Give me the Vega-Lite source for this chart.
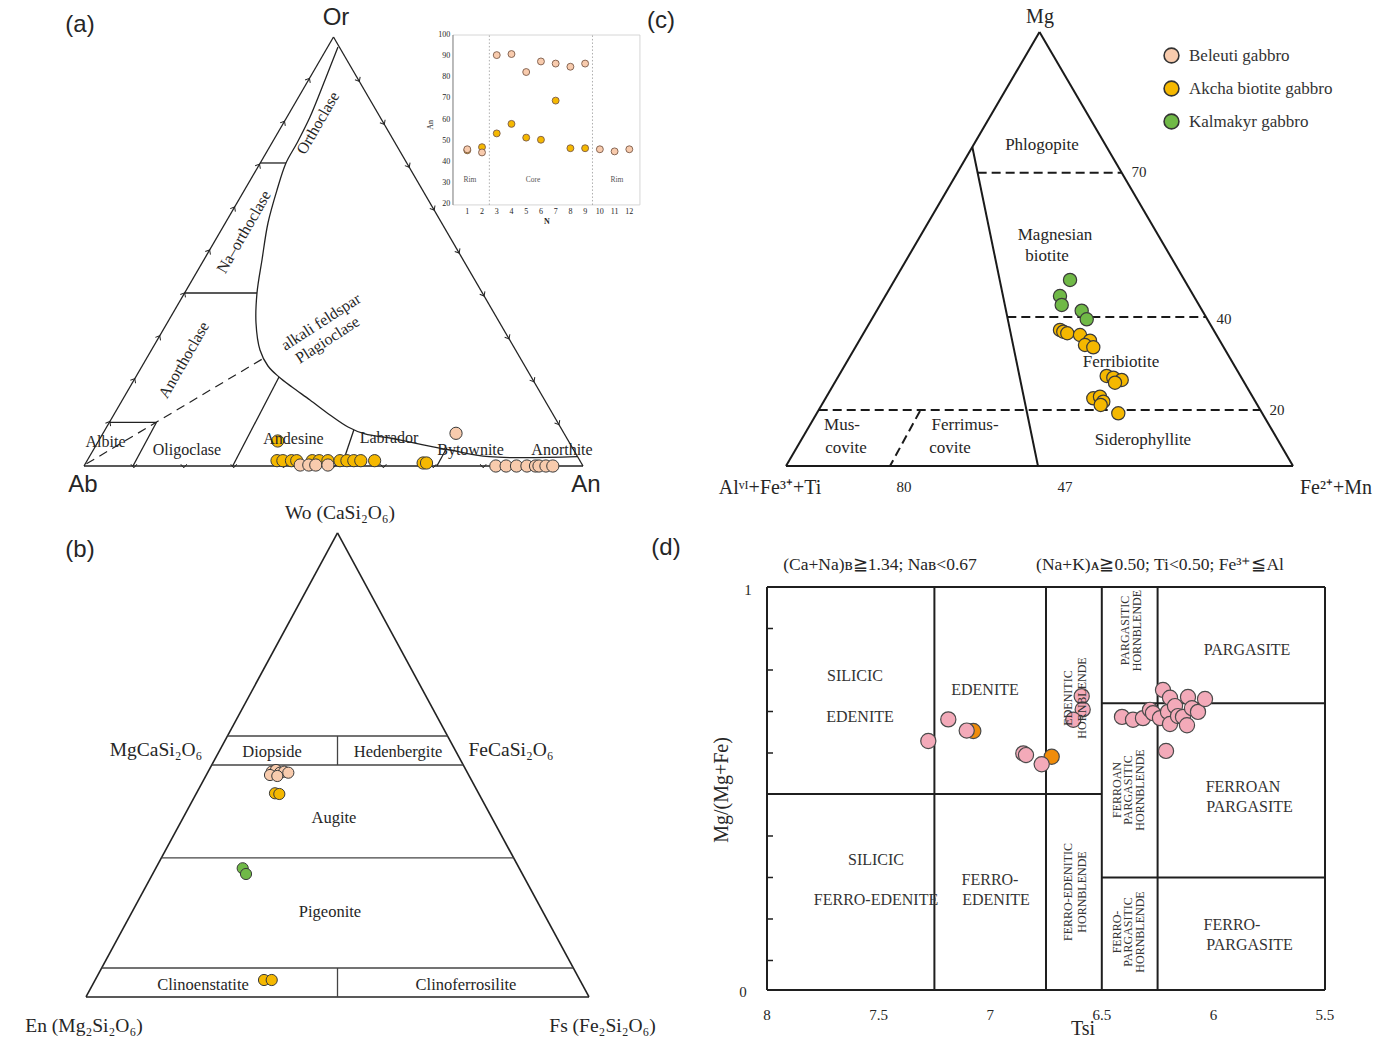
{
"$schema":"https://vega.github.io/schema/vega-lite/v6.json",
"padding":0,
"autosize":{"type":"pad"},
"background":"#ffffff",
"bounds":"flush",
"spacing":0,
"columns":2,
"align":"each",
"config":{"view":{"stroke":null},"concat":{"spacing":0},"text":{"font":"Liberation Serif","color":"#262626"}},
"datasets":{
"a_frame":[{"u":0,"v":0,"u2":1,"v2":0},{"u":0,"v":0,"u2":0.5,"v2":1},{"u":1,"v":0,"u2":0.5,"v2":1},{"u":0.3531,"v":0.7063,"u2":0.4048,"v2":0.7063},{"u":0.2016,"v":0.4033,"u2":0.3467,"v2":0.4033},{"u":0.051,"v":0.1019,"u2":0.1453,"v2":0.1019},{"u":0.1453,"v":0.1019,"u2":0.0982,"v2":0},{"u":0.298,"v":0,"u2":0.3908,"v2":0.2075},{"u":0.5164,"v":0,"u2":0.5407,"v2":0.0839},{"u":0.7072,"v":0,"u2":0.7275,"v2":0.043}],
"a_dash":[{"u":0.005,"v":0.005,"u2":0.3607,"v2":0.2517}],
"a_curve":[{"ord":1,"u":0.509,"v":0.9767},{"ord":2,"u":0.483,"v":0.8998},{"ord":3,"u":0.4529,"v":0.8135},{"ord":4,"u":0.4269,"v":0.7529},{"ord":5,"u":0.4048,"v":0.7063},{"ord":6,"u":0.3868,"v":0.6434},{"ord":7,"u":0.3687,"v":0.5664},{"ord":8,"u":0.3567,"v":0.4802},{"ord":9,"u":0.3467,"v":0.4033},{"ord":10,"u":0.3447,"v":0.3333},{"ord":11,"u":0.3527,"v":0.2704},{"ord":12,"u":0.3687,"v":0.2331},{"ord":13,"u":0.3908,"v":0.2075},{"ord":14,"u":0.4168,"v":0.1841},{"ord":15,"u":0.4529,"v":0.1538},{"ord":16,"u":0.493,"v":0.1189},{"ord":17,"u":0.5291,"v":0.0909},{"ord":18,"u":0.5631,"v":0.0746},{"ord":19,"u":0.6132,"v":0.0653},{"ord":20,"u":0.6653,"v":0.0529},{"ord":21,"u":0.7335,"v":0.0373},{"ord":22,"u":0.8116,"v":0.0217},{"ord":23,"u":0.989,"v":0.0217}],
"a_tick_l":[{"u":0.05,"v":0.1},{"u":0.1,"v":0.2},{"u":0.15,"v":0.3},{"u":0.2,"v":0.4},{"u":0.25,"v":0.5},{"u":0.3,"v":0.6},{"u":0.35,"v":0.7},{"u":0.4,"v":0.8},{"u":0.45,"v":0.9}],
"a_tick_r":[{"u":0.95,"v":0.1},{"u":0.9,"v":0.2},{"u":0.85,"v":0.3},{"u":0.8,"v":0.4},{"u":0.75,"v":0.5},{"u":0.7,"v":0.6},{"u":0.65,"v":0.7},{"u":0.6,"v":0.8},{"u":0.55,"v":0.9}],
"a_tick_b":[{"u":0.1,"v":0},{"u":0.2,"v":0},{"u":0.3,"v":0},{"u":0.4,"v":0},{"u":0.5,"v":0},{"u":0.6,"v":0},{"u":0.7,"v":0},{"u":0.8,"v":0},{"u":0.9,"v":0}],
"a_pts":[
{"u":0.3882,"v":0.0583,"rock":"Akcha biotite gabbro"},
{"u":0.3868,"v":0.0124,"rock":"Akcha biotite gabbro"},{"u":0.3986,"v":0.0124,"rock":"Akcha biotite gabbro"},{"u":0.4158,"v":0.0124,"rock":"Akcha biotite gabbro"},{"u":0.4263,"v":0.0124,"rock":"Akcha biotite gabbro"},{"u":0.4575,"v":0.0124,"rock":"Akcha biotite gabbro"},{"u":0.4713,"v":0.0124,"rock":"Akcha biotite gabbro"},{"u":0.4888,"v":0.0124,"rock":"Akcha biotite gabbro"},{"u":0.513,"v":0.0124,"rock":"Akcha biotite gabbro"},{"u":0.5269,"v":0.0124,"rock":"Akcha biotite gabbro"},{"u":0.5407,"v":0.0124,"rock":"Akcha biotite gabbro"},{"u":0.5547,"v":0.0124,"rock":"Akcha biotite gabbro"},{"u":0.5824,"v":0.0124,"rock":"Akcha biotite gabbro"},
{"u":0.6796,"v":0.007,"rock":"Akcha biotite gabbro"},{"u":0.6864,"v":0.007,"rock":"Akcha biotite gabbro"},
{"u":0.4333,"v":0.0023,"rock":"Beleuti gabbro"},{"u":0.4505,"v":0.0023,"rock":"Beleuti gabbro"},{"u":0.4645,"v":0.0023,"rock":"Beleuti gabbro"},{"u":0.4888,"v":0.0023,"rock":"Beleuti gabbro"},
{"u":0.7455,"v":0.0762,"rock":"Beleuti gabbro"},
{"u":0.8253,"v":0,"rock":"Beleuti gabbro"},{"u":0.8459,"v":0,"rock":"Beleuti gabbro"},{"u":0.8667,"v":0,"rock":"Beleuti gabbro"},{"u":0.8876,"v":0,"rock":"Beleuti gabbro"},{"u":0.9048,"v":0,"rock":"Beleuti gabbro"},{"u":0.9118,"v":0,"rock":"Beleuti gabbro"},{"u":0.9257,"v":0,"rock":"Beleuti gabbro"},{"u":0.9395,"v":0,"rock":"Beleuti gabbro"}],
"a_lab_sans":[{"u":-0.008,"v":1.028,"label":"(a)"},{"u":0.505,"v":1.044,"label":"Or"},{"u":-0.002,"v":-0.0443,"label":"Ab"},{"u":1.006,"v":-0.0443,"label":"An"}],
"a_lab":[{"u":0.0431,"v":0.0566,"label":"Albite"},{"u":0.2064,"v":0.0373,"label":"Oligoclase"},{"u":0.4198,"v":0.0622,"label":"Andesine"},{"u":0.6112,"v":0.0646,"label":"Labrador"},{"u":0.7747,"v":0.0373,"label":"Bytownite"},{"u":0.9579,"v":0.0373,"label":"Anorthite"}],
"a_lab_r60":[{"u":0.469,"v":0.7995,"label":"Orthoclase"},{"u":0.3206,"v":0.5455,"label":"Na–orthoclase"},{"u":0.2004,"v":0.2471,"label":"Anorthoclase"}],
"a_lab_r33":[{"u":0.475,"v":0.3357,"label":"alkali feldspar"},{"u":0.488,"v":0.2937,"label":"Plagioclase"}],
"i_frame":[{"n":0.03,"an":100,"n2":12.72,"an2":100},{"n":12.72,"an":19.7,"n2":12.72,"an2":100},{"n":0.03,"an":19.7,"n2":12.72,"an2":19.7}],
"i_axis":[{"n":0.03,"an":19.7,"n2":0.03,"an2":100}],
"i_dot":[{"n":2.5,"an":19.7,"n2":2.5,"an2":100},{"n":9.5,"an":19.7,"n2":9.5,"an2":100}],
"i_pts":[
{"n":1,"an":45.5,"rock":"Akcha biotite gabbro"},{"n":2,"an":47,"rock":"Akcha biotite gabbro"},{"n":3,"an":53.5,"rock":"Akcha biotite gabbro"},{"n":4,"an":58,"rock":"Akcha biotite gabbro"},{"n":5,"an":51.5,"rock":"Akcha biotite gabbro"},{"n":6,"an":50.5,"rock":"Akcha biotite gabbro"},{"n":7,"an":69,"rock":"Akcha biotite gabbro"},{"n":8,"an":46.5,"rock":"Akcha biotite gabbro"},{"n":9,"an":46.5,"rock":"Akcha biotite gabbro"},
{"n":1,"an":46,"rock":"Beleuti gabbro"},{"n":2,"an":44.5,"rock":"Beleuti gabbro"},{"n":3,"an":90.5,"rock":"Beleuti gabbro"},{"n":4,"an":91,"rock":"Beleuti gabbro"},{"n":5,"an":82.5,"rock":"Beleuti gabbro"},{"n":6,"an":87.5,"rock":"Beleuti gabbro"},{"n":7,"an":86.5,"rock":"Beleuti gabbro"},{"n":8,"an":85,"rock":"Beleuti gabbro"},{"n":9,"an":86.5,"rock":"Beleuti gabbro"},{"n":10,"an":46,"rock":"Beleuti gabbro"},{"n":11,"an":45,"rock":"Beleuti gabbro"},{"n":12,"an":46,"rock":"Beleuti gabbro"}],
"i_ylab":[{"n":-0.15,"an":20,"label":"20"},{"n":-0.15,"an":30,"label":"30"},{"n":-0.15,"an":40,"label":"40"},{"n":-0.15,"an":50,"label":"50"},{"n":-0.15,"an":60,"label":"60"},{"n":-0.15,"an":70,"label":"70"},{"n":-0.15,"an":80,"label":"80"},{"n":-0.15,"an":90,"label":"90"},{"n":-0.15,"an":100,"label":"100"}],
"i_xlab":[{"n":1,"an":16.5,"label":"1"},{"n":2,"an":16.5,"label":"2"},{"n":3,"an":16.5,"label":"3"},{"n":4,"an":16.5,"label":"4"},{"n":5,"an":16.5,"label":"5"},{"n":6,"an":16.5,"label":"6"},{"n":7,"an":16.5,"label":"7"},{"n":8,"an":16.5,"label":"8"},{"n":9,"an":16.5,"label":"9"},{"n":10,"an":16.5,"label":"10"},{"n":11,"an":16.5,"label":"11"},{"n":12,"an":16.5,"label":"12"}],
"i_reg":[{"n":1.18,"an":31.5,"label":"Rim"},{"n":5.46,"an":31.5,"label":"Core"},{"n":11.16,"an":31.5,"label":"Rim"}],
"i_ytitle":[{"n":-1.43,"an":57.5,"label":"An"}],
"i_xtitle":[{"n":6.41,"an":11.8,"label":"N"}],
"c_frame":[{"u":0,"v":0,"u2":1,"v2":0},{"u":0,"v":0,"u2":0.5,"v2":1},{"u":1,"v":0,"u2":0.5,"v2":1},{"u":0.3675,"v":0.735,"u2":0.497,"v2":0}],
"c_dash":[{"u":0.378,"v":0.6758,"u2":0.6621,"v2":0.6758},{"u":0.4365,"v":0.3433,"u2":0.8283,"v2":0.3433},{"u":0.0645,"v":0.129,"u2":0.9355,"v2":0.129},{"u":0.2643,"v":0.1267,"u2":0.2051,"v2":0}],
"c_pts":[
{"u":0.5602,"v":0.4286,"rock":"Kalmakyr gabbro"},{"u":0.5404,"v":0.3917,"rock":"Kalmakyr gabbro"},{"u":0.5438,"v":0.371,"rock":"Kalmakyr gabbro"},{"u":0.5832,"v":0.3578,"rock":"Kalmakyr gabbro"},{"u":0.5931,"v":0.338,"rock":"Kalmakyr gabbro"},
{"u":0.5404,"v":0.3134,"rock":"Akcha biotite gabbro"},{"u":0.5469,"v":0.3094,"rock":"Akcha biotite gabbro"},{"u":0.5548,"v":0.3058,"rock":"Akcha biotite gabbro"},{"u":0.5799,"v":0.3018,"rock":"Akcha biotite gabbro"},{"u":0.5996,"v":0.2887,"rock":"Akcha biotite gabbro"},{"u":0.5897,"v":0.2788,"rock":"Akcha biotite gabbro"},{"u":0.6061,"v":0.2735,"rock":"Akcha biotite gabbro"},{"u":0.6325,"v":0.2074,"rock":"Akcha biotite gabbro"},{"u":0.6456,"v":0.2035,"rock":"Akcha biotite gabbro"},{"u":0.6621,"v":0.1982,"rock":"Akcha biotite gabbro"},{"u":0.6489,"v":0.1919,"rock":"Akcha biotite gabbro"},{"u":0.6061,"v":0.156,"rock":"Akcha biotite gabbro"},{"u":0.6193,"v":0.1597,"rock":"Akcha biotite gabbro"},{"u":0.6258,"v":0.1482,"rock":"Akcha biotite gabbro"},{"u":0.6207,"v":0.1406,"rock":"Akcha biotite gabbro"},{"u":0.6554,"v":0.1214,"rock":"Akcha biotite gabbro"}],
"c_corner":[{"u":0.501,"v":1.0346,"label":"Mg"},{"u":-0.0316,"v":-0.0507,"label":"Alᵛᴵ+Fe³⁺+Ti"},{"u":1.0848,"v":-0.0507,"label":"Fe²⁺+Mn"}],
"c_lab":[{"u":0.5049,"v":0.7396,"label":"Phlogopite"},{"u":0.5306,"v":0.5323,"label":"Magnesian"},{"u":0.5148,"v":0.4839,"label":"biotite"},{"u":0.6607,"v":0.2396,"label":"Ferribiotite"},{"u":0.7041,"v":0.0599,"label":"Siderophyllite"},{"u":0.1105,"v":0.0945,"label":"Mus-"},{"u":0.1183,"v":0.0415,"label":"covite"},{"u":0.3531,"v":0.0945,"label":"Ferrimus-"},{"u":0.3235,"v":0.0415,"label":"covite"}],
"c_num":[{"u":0.6963,"v":0.6774,"label":"70"},{"u":0.8639,"v":0.3387,"label":"40"},{"u":0.9684,"v":0.129,"label":"20"},{"u":0.2327,"v":-0.0484,"label":"80"},{"u":0.5503,"v":-0.0484,"label":"47"}],
"c_sans":[{"u":-0.2465,"v":1.0253,"label":"(c)"}],
"b_outer":[{"u":0,"v":0,"u2":1,"v2":0},{"u":0,"v":0,"u2":0.5,"v2":1},{"u":1,"v":0,"u2":0.5,"v2":1}],
"b_inner":[{"u":0.28125,"v":0.5625,"u2":0.71875,"v2":0.5625},{"u":0.25,"v":0.5,"u2":0.75,"v2":0.5},{"u":0.15,"v":0.3,"u2":0.85,"v2":0.3},{"u":0.03125,"v":0.0625,"u2":0.96875,"v2":0.0625},{"u":0.5,"v":0.5,"u2":0.5,"v2":0.5625},{"u":0.5,"v":0,"u2":0.5,"v2":0.0625}],
"b_pts":[
{"u":0.3692,"v":0.4856,"rock":"Beleuti gabbro"},{"u":0.3777,"v":0.4892,"rock":"Beleuti gabbro"},{"u":0.3857,"v":0.4834,"rock":"Beleuti gabbro"},{"u":0.3942,"v":0.4856,"rock":"Beleuti gabbro"},{"u":0.4022,"v":0.4834,"rock":"Beleuti gabbro"},{"u":0.3658,"v":0.4784,"rock":"Beleuti gabbro"},{"u":0.3803,"v":0.4763,"rock":"Beleuti gabbro"},
{"u":0.3757,"v":0.439,"rock":"Akcha biotite gabbro"},{"u":0.3843,"v":0.4375,"rock":"Akcha biotite gabbro"},{"u":0.3539,"v":0.0366,"rock":"Akcha biotite gabbro"},{"u":0.3692,"v":0.0366,"rock":"Akcha biotite gabbro"},
{"u":0.3115,"v":0.2774,"rock":"Kalmakyr gabbro"},{"u":0.3181,"v":0.2651,"rock":"Kalmakyr gabbro"}],
"b_big":[{"u":0.505,"v":1.0431,"label":"Wo (CaSi₂O₆)"},{"u":0.1392,"v":0.532,"label":"MgCaSi₂O₆"},{"u":0.845,"v":0.532,"label":"FeCaSi₂O₆"},{"u":-0.004,"v":-0.0625,"label":"En (Mg₂Si₂O₆)"},{"u":1.027,"v":-0.0625,"label":"Fs (Fe₂Si₂O₆)"}],
"b_lab":[{"u":0.3698,"v":0.528,"label":"Diopside"},{"u":0.6203,"v":0.528,"label":"Hedenbergite"},{"u":0.493,"v":0.386,"label":"Augite"},{"u":0.485,"v":0.183,"label":"Pigeonite"},{"u":0.2326,"v":0.0259,"label":"Clinoenstatite"},{"u":0.7555,"v":0.0259,"label":"Clinoferrosilite"}],
"b_sans":[{"u":-0.0119,"v":0.9634,"label":"(b)"}],
"d_frame":[{"t":8,"m":0.029,"t2":5.5,"m2":0.029},{"t":5.5,"m":0.029,"t2":5.5,"m2":1},{"t":5.5,"m":1,"t2":8,"m2":1},{"t":8,"m":1,"t2":8,"m2":0.029},{"t":7.25,"m":0.029,"t2":7.25,"m2":1},{"t":6.75,"m":0.029,"t2":6.75,"m2":1},{"t":6.5,"m":0.029,"t2":6.5,"m2":1},{"t":6.25,"m":0.029,"t2":6.25,"m2":1},{"t":8,"m":0.5012,"t2":6.5,"m2":0.5012},{"t":6.5,"m":0.72,"t2":5.5,"m2":0.72},{"t":6.5,"m":0.3,"t2":5.5,"m2":0.3}],
"d_ticks":[{"t":8,"m":0.1,"t2":7.973,"m2":0.1},{"t":8,"m":0.2,"t2":7.973,"m2":0.2},{"t":8,"m":0.3,"t2":7.973,"m2":0.3},{"t":8,"m":0.4,"t2":7.973,"m2":0.4},{"t":8,"m":0.6,"t2":7.973,"m2":0.6},{"t":8,"m":0.7,"t2":7.973,"m2":0.7},{"t":8,"m":0.8,"t2":7.973,"m2":0.8},{"t":8,"m":0.9,"t2":7.973,"m2":0.9}],
"d_orange":[{"t":7.0757,"m":0.653},{"t":6.7245,"m":0.591}],
"d_pink":[{"t":7.2773,"m":0.629},{"t":7.1877,"m":0.681},{"t":7.1053,"m":0.654},{"t":6.8517,"m":0.599},{"t":6.8396,"m":0.595},{"t":6.7693,"m":0.573},{"t":6.5901,"m":0.737},{"t":6.5856,"m":0.705},{"t":6.6277,"m":0.68},{"t":6.4095,"m":0.687},{"t":6.3602,"m":0.68},{"t":6.3154,"m":0.684},{"t":6.2841,"m":0.704},{"t":6.2706,"m":0.696},{"t":6.2392,"m":0.684},{"t":6.2258,"m":0.752},{"t":6.2034,"m":0.699},{"t":6.1944,"m":0.733},{"t":6.1944,"m":0.67},{"t":6.172,"m":0.713},{"t":6.1586,"m":0.689},{"t":6.1362,"m":0.687},{"t":6.1183,"m":0.667},{"t":6.1138,"m":0.735},{"t":6.0959,"m":0.708},{"t":6.069,"m":0.699},{"t":6.0376,"m":0.73},{"t":6.2123,"m":0.605}],
"d_big":[{"t":7.6057,"m":0.7855,"label":"SILICIC"},{"t":7.5833,"m":0.6867,"label":"EDENITE"},{"t":7.0233,"m":0.7518,"label":"EDENITE"},{"t":7.5116,"m":0.3422,"label":"SILICIC"},{"t":7.5116,"m":0.2458,"label":"FERRO-EDENITE"},{"t":7.0009,"m":0.294,"label":"FERRO-"},{"t":6.974,"m":0.2458,"label":"EDENITE"},{"t":5.8495,"m":0.8482,"label":"PARGASITE"},{"t":5.8674,"m":0.5181,"label":"FERROAN"},{"t":5.838,"m":0.4699,"label":"PARGASITE"},{"t":5.9167,"m":0.1855,"label":"FERRO-"},{"t":5.838,"m":0.1373,"label":"PARGASITE"}],
"d_rot":[{"t":6.6514,"m":0.7325,"label":"EDENITIC"},{"t":6.59,"m":0.7325,"label":"HORNBLENDE"},{"t":6.396,"m":0.895,"label":"PARGASITIC"},{"t":6.3436,"m":0.895,"label":"HORNBLENDE"},{"t":6.4332,"m":0.5108,"label":"FERROAN"},{"t":6.3812,"m":0.5108,"label":"PARGASITIC"},{"t":6.3292,"m":0.5108,"label":"HORNBLENDE"},{"t":6.6514,"m":0.265,"label":"FERRO-EDENITIC"},{"t":6.5887,"m":0.265,"label":"HORNBLENDE"},{"t":6.4332,"m":0.1687,"label":"FERRO-"},{"t":6.3812,"m":0.1687,"label":"PARGASITIC"},{"t":6.3292,"m":0.1687,"label":"HORNBLENDE"}],
"d_head":[{"t":7.4937,"m":1.053,"label":"(Ca+Na)ʙ≧1.34; Naʙ<0.67"},{"t":6.2392,"m":1.053,"label":"(Na+K)ᴀ≧0.50; Ti<0.50; Fe³⁺≦Al"}],
"d_tick_lab":[{"t":8.0851,"m":0.9928,"label":"1"},{"t":8.1075,"m":0.0241,"label":"0"},{"t":8,"m":-0.031,"label":"8"},{"t":7.5,"m":-0.031,"label":"7.5"},{"t":7,"m":-0.031,"label":"7"},{"t":6.5,"m":-0.031,"label":"6.5"},{"t":6,"m":-0.031,"label":"6"},{"t":5.5,"m":-0.031,"label":"5.5"}],
"d_ytitle":[{"t":8.2016,"m":0.5108,"label":"Mg/(Mg+Fe)"}],
"d_xtitle":[{"t":6.5842,"m":-0.065,"label":"Tsi"}],
"d_sans":[{"t":8.4525,"m":1.094,"label":"(d)"}]
},
"concat":[
{"width":690,"height":505,
 "resolve":{"scale":{"x":"independent","y":"independent"}},
 "layer":[
  {"encoding":{
    "x":{"field":"u","type":"quantitative","scale":{"domain":[-0.1683,1.2144],"nice":false,"zero":false},"axis":null},
    "y":{"field":"v","type":"quantitative","scale":{"domain":[-0.0909,1.0862],"nice":false,"zero":false},"axis":null}},
   "layer":[
    {"data":{"name":"a_frame"},"mark":{"type":"rule","color":"#222","strokeWidth":1.3},"encoding":{"x2":{"field":"u2"},"y2":{"field":"v2"}}},
    {"data":{"name":"a_dash"},"mark":{"type":"rule","color":"#222","strokeWidth":1.2,"strokeDash":[9,6]},"encoding":{"x2":{"field":"u2"},"y2":{"field":"v2"}}},
    {"data":{"name":"a_curve"},"mark":{"type":"line","color":"#222","strokeWidth":1.3,"interpolate":"catmull-rom"},"encoding":{"order":{"field":"ord","type":"quantitative"}}},
    {"data":{"name":"a_tick_l"},"mark":{"type":"point","shape":"M-1,0.6L0,-0.6L1,0.6","filled":false,"color":"#222","strokeWidth":1,"size":36,"angle":30,"opacity":1}},
    {"data":{"name":"a_tick_r"},"mark":{"type":"point","shape":"M-1,0.6L0,-0.6L1,0.6","filled":false,"color":"#222","strokeWidth":1,"size":36,"angle":150,"opacity":1}},
    {"data":{"name":"a_tick_b"},"mark":{"type":"point","shape":"M-1,0.6L0,-0.6L1,0.6","filled":false,"color":"#222","strokeWidth":1,"size":36,"angle":180,"opacity":1}},
    {"data":{"name":"a_pts"},"mark":{"type":"point","filled":true,"shape":"circle","size":150,"stroke":"#3a3a3a","strokeWidth":1,"opacity":1},
     "encoding":{"fill":{"field":"rock","type":"nominal","scale":{"domain":["Beleuti gabbro","Akcha biotite gabbro","Kalmakyr gabbro"],"range":["#F8CBAD","#F5B800","#70B947"]},"legend":{"title":null,"orient":"none","legendX":1163,"legendY":47,"symbolType":"circle","symbolSize":220,"symbolStrokeColor":"#333","symbolStrokeWidth":1.6,"symbolOpacity":1,"labelFont":"Liberation Serif","labelFontSize":17,"labelColor":"#333","rowPadding":10,"labelOffset":9,"padding":0}}}},
    {"data":{"name":"a_lab_sans"},"mark":{"type":"text","font":"Liberation Sans","fontSize":24},"encoding":{"text":{"field":"label","type":"nominal"}}},
    {"data":{"name":"a_lab"},"mark":{"type":"text","fontSize":16},"encoding":{"text":{"field":"label","type":"nominal"}}},
    {"data":{"name":"a_lab_r60"},"mark":{"type":"text","fontSize":16,"angle":300},"encoding":{"text":{"field":"label","type":"nominal"}}},
    {"data":{"name":"a_lab_r33"},"mark":{"type":"text","fontSize":16,"angle":327},"encoding":{"text":{"field":"label","type":"nominal"}}}
   ]},
  {"encoding":{
    "x":{"field":"n","type":"quantitative","scale":{"domain":[-30.72,16.119],"nice":false,"zero":false},"axis":null},
    "y":{"field":"an","type":"quantitative","scale":{"domain":[-122.1,116.54],"nice":false,"zero":false},"axis":null}},
   "layer":[
    {"data":{"name":"i_frame"},"mark":{"type":"rule","color":"#cccccc","strokeWidth":0.8},"encoding":{"x2":{"field":"n2"},"y2":{"field":"an2"}}},
    {"data":{"name":"i_axis"},"mark":{"type":"rule","color":"#777777","strokeWidth":1},"encoding":{"x2":{"field":"n2"},"y2":{"field":"an2"}}},
    {"data":{"name":"i_dot"},"mark":{"type":"rule","color":"#999999","strokeWidth":0.8,"strokeDash":[1.5,2]},"encoding":{"x2":{"field":"n2"},"y2":{"field":"an2"}}},
    {"data":{"name":"i_pts"},"mark":{"type":"point","filled":true,"shape":"circle","size":48,"stroke":"#7a5a48","strokeWidth":0.9,"opacity":1},
     "encoding":{"fill":{"field":"rock","type":"nominal","scale":{"domain":["Beleuti gabbro","Akcha biotite gabbro","Kalmakyr gabbro"],"range":["#F8CBAD","#F5B800","#70B947"]},"legend":{"title":null,"orient":"none","legendX":1163,"legendY":47,"symbolType":"circle","symbolSize":220,"symbolStrokeColor":"#333","symbolStrokeWidth":1.6,"symbolOpacity":1,"labelFont":"Liberation Serif","labelFontSize":17,"labelColor":"#333","rowPadding":10,"labelOffset":9,"padding":0}}}},
    {"data":{"name":"i_ylab"},"mark":{"type":"text","fontSize":8,"align":"right"},"encoding":{"text":{"field":"label","type":"nominal"}}},
    {"data":{"name":"i_xlab"},"mark":{"type":"text","fontSize":8},"encoding":{"text":{"field":"label","type":"nominal"}}},
    {"data":{"name":"i_reg"},"mark":{"type":"text","fontSize":7.5,"color":"#555555"},"encoding":{"text":{"field":"label","type":"nominal"}}},
    {"data":{"name":"i_ytitle"},"mark":{"type":"text","fontSize":8,"angle":270},"encoding":{"text":{"field":"label","type":"nominal"}}},
    {"data":{"name":"i_xtitle"},"mark":{"type":"text","fontSize":8,"fontWeight":"bold"},"encoding":{"text":{"field":"label","type":"nominal"}}}
   ]}
 ]},
{"width":707,"height":505,
 "encoding":{
  "x":{"field":"u","type":"quantitative","scale":{"domain":[-0.18935,1.2051],"nice":false,"zero":false},"axis":null},
  "y":{"field":"v","type":"quantitative","scale":{"domain":[-0.0899,1.0737],"nice":false,"zero":false},"axis":null}},
 "layer":[
  {"data":{"name":"c_frame"},"mark":{"type":"rule","color":"#1a1a1a","strokeWidth":2},"encoding":{"x2":{"field":"u2"},"y2":{"field":"v2"}}},
  {"data":{"name":"c_dash"},"mark":{"type":"rule","color":"#1a1a1a","strokeWidth":2,"strokeDash":[9,5]},"encoding":{"x2":{"field":"u2"},"y2":{"field":"v2"}}},
  {"data":{"name":"c_pts"},"mark":{"type":"point","filled":true,"shape":"circle","size":175,"stroke":"#3a3a3a","strokeWidth":1.2,"opacity":1},
   "encoding":{"fill":{"field":"rock","type":"nominal","scale":{"domain":["Beleuti gabbro","Akcha biotite gabbro","Kalmakyr gabbro"],"range":["#F8CBAD","#F5B800","#70B947"]},"legend":{"title":null,"orient":"none","legendX":1163,"legendY":47,"symbolType":"circle","symbolSize":220,"symbolStrokeColor":"#333","symbolStrokeWidth":1.6,"symbolOpacity":1,"labelFont":"Liberation Serif","labelFontSize":17,"labelColor":"#333","rowPadding":10,"labelOffset":9,"padding":0}}}},
  {"data":{"name":"c_corner"},"mark":{"type":"text","fontSize":20},"encoding":{"text":{"field":"label","type":"nominal"}}},
  {"data":{"name":"c_lab"},"mark":{"type":"text","fontSize":17},"encoding":{"text":{"field":"label","type":"nominal"}}},
  {"data":{"name":"c_num"},"mark":{"type":"text","fontSize":15},"encoding":{"text":{"field":"label","type":"nominal"}}},
  {"data":{"name":"c_sans"},"mark":{"type":"text","font":"Liberation Sans","fontSize":24},"encoding":{"text":{"field":"label","type":"nominal"}}}
 ]},
{"width":690,"height":535,
 "encoding":{
  "x":{"field":"u","type":"quantitative","scale":{"domain":[-0.171,1.2008],"nice":false,"zero":false},"axis":null},
  "y":{"field":"v","type":"quantitative","scale":{"domain":[-0.0927,1.0603],"nice":false,"zero":false},"axis":null}},
 "layer":[
  {"data":{"name":"b_outer"},"mark":{"type":"rule","color":"#222","strokeWidth":1.6},"encoding":{"x2":{"field":"u2"},"y2":{"field":"v2"}}},
  {"data":{"name":"b_inner"},"mark":{"type":"rule","color":"#444","strokeWidth":1.3},"encoding":{"x2":{"field":"u2"},"y2":{"field":"v2"}}},
  {"data":{"name":"b_pts"},"mark":{"type":"point","filled":true,"shape":"circle","size":125,"stroke":"#3a3a3a","strokeWidth":1,"opacity":1},
   "encoding":{"fill":{"field":"rock","type":"nominal","scale":{"domain":["Beleuti gabbro","Akcha biotite gabbro","Kalmakyr gabbro"],"range":["#F8CBAD","#F5B800","#70B947"]},"legend":{"title":null,"orient":"none","legendX":1163,"legendY":47,"symbolType":"circle","symbolSize":220,"symbolStrokeColor":"#333","symbolStrokeWidth":1.6,"symbolOpacity":1,"labelFont":"Liberation Serif","labelFontSize":17,"labelColor":"#333","rowPadding":10,"labelOffset":9,"padding":0}}}},
  {"data":{"name":"b_big"},"mark":{"type":"text","fontSize":19.5},"encoding":{"text":{"field":"label","type":"nominal"}}},
  {"data":{"name":"b_lab"},"mark":{"type":"text","fontSize":16.5},"encoding":{"text":{"field":"label","type":"nominal"}}},
  {"data":{"name":"b_sans"},"mark":{"type":"text","font":"Liberation Sans","fontSize":24},"encoding":{"text":{"field":"label","type":"nominal"}}}
 ]},
{"width":707,"height":535,
 "encoding":{
  "x":{"field":"t","type":"quantitative","scale":{"domain":[5.1774,8.345],"reverse":true,"nice":false,"zero":false},"axis":null},
  "y":{"field":"m","type":"quantitative","scale":{"domain":[-0.0916,1.1976],"nice":false,"zero":false},"axis":null}},
 "layer":[
  {"data":{"name":"d_frame"},"mark":{"type":"rule","color":"#1f1f1f","strokeWidth":2},"encoding":{"x2":{"field":"t2"},"y2":{"field":"m2"}}},
  {"data":{"name":"d_ticks"},"mark":{"type":"rule","color":"#1f1f1f","strokeWidth":1.5},"encoding":{"x2":{"field":"t2"},"y2":{"field":"m2"}}},
  {"data":{"name":"d_orange"},"mark":{"type":"point","filled":true,"shape":"circle","size":230,"fill":"#F08C0A","stroke":"#4a4a4a","strokeWidth":1.2,"opacity":1}},
  {"data":{"name":"d_pink"},"mark":{"type":"point","filled":true,"shape":"circle","size":230,"fill":"#F3AAB9","stroke":"#4a4a4a","strokeWidth":1.2,"opacity":1}},
  {"data":{"name":"d_big"},"mark":{"type":"text","fontSize":16,"color":"#333"},"encoding":{"text":{"field":"label","type":"nominal"}}},
  {"data":{"name":"d_rot"},"mark":{"type":"text","fontSize":12,"angle":270,"color":"#333"},"encoding":{"text":{"field":"label","type":"nominal"}}},
  {"data":{"name":"d_head"},"mark":{"type":"text","fontSize":17.5},"encoding":{"text":{"field":"label","type":"nominal"}}},
  {"data":{"name":"d_tick_lab"},"mark":{"type":"text","fontSize":15},"encoding":{"text":{"field":"label","type":"nominal"}}},
  {"data":{"name":"d_ytitle"},"mark":{"type":"text","fontSize":20,"angle":270},"encoding":{"text":{"field":"label","type":"nominal"}}},
  {"data":{"name":"d_xtitle"},"mark":{"type":"text","fontSize":20},"encoding":{"text":{"field":"label","type":"nominal"}}},
  {"data":{"name":"d_sans"},"mark":{"type":"text","font":"Liberation Sans","fontSize":24},"encoding":{"text":{"field":"label","type":"nominal"}}}
 ]}
]
}
